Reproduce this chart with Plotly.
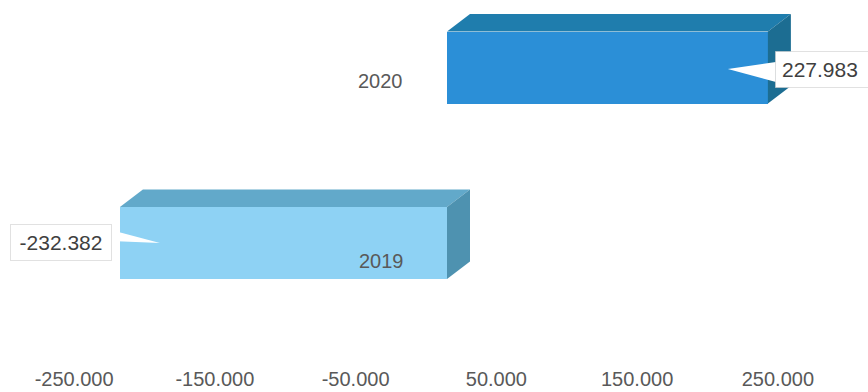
import plotly.graph_objects as go

# Data
years = ["2019", "2020"]
values = [-232382, 227983]
tick_values = [-250000, -150000, -50000, 50000, 150000, 250000]
tick_labels = ["-250.000", "-150.000", "-50.000", "50.000", "150.000", "250.000"]

# Face colours for the pseudo-3D boxes (front, top, side)
front_colors = ["#8ED2F4", "#2B8FD7"]
top_colors = ["#62A9CA", "#1F7DAD"]
side_colors = ["#4E92B0", "#1C6D92"]

# Canvas geometry
W, H = 868, 392
MB = 27
plot_h = H - MB
px_per_unit = 1.4075 / 1000.0
zero_px = 447.0
x_range = [-zero_px / px_per_unit, (W - zero_px) / px_per_unit]

row_px = 175.5          # pixel distance between the two rows
row0_px = 243.0         # pixel y of first row centre
y_range = [-(plot_h - row0_px) / row_px, 1 + (row0_px - row_px) / row_px]

bar_px = 72.0           # front face height
DX, DY = 23.0, 17.5     # depth offset of the boxes in pixels
dx_units = DX / px_per_unit
label_shift_units = 21.0 / px_per_unit  # axis labels sit on the floor edge

ypos = list(range(len(years)))

fig = go.Figure()
fig.add_trace(go.Bar(
    y=ypos, x=values, base=0, orientation="h",
    width=bar_px / row_px,
    marker=dict(color=front_colors, line=dict(width=0)),
    hoverinfo="skip", showlegend=False,
))
# empty trace carrying the label axis
fig.add_trace(go.Scatter(x=[], y=[], xaxis="x2", yaxis="y", showlegend=False))

shapes = []
annotations = []
half = bar_px / 2
label_font = dict(family="Liberation Sans, Arial", size=21, color="#3F3F3F")
for i, (yr, v) in enumerate(zip(years, values)):
    x0, x1 = min(0, v), max(0, v)
    # top face
    shapes.append(dict(
        type="path", xref="x", yref="y", ysizemode="pixel", yanchor=i,
        path=(f"M {x0},{half} L {x1},{half} L {x1 + dx_units},{half + DY} "
              f"L {x0 + dx_units},{half + DY} Z"),
        fillcolor=top_colors[i], line=dict(width=0), layer="above",
    ))
    # side face
    shapes.append(dict(
        type="path", xref="x", yref="y", ysizemode="pixel", yanchor=i,
        path=(f"M {x1},{half} L {x1 + dx_units},{half + DY} "
              f"L {x1 + dx_units},{-half + DY} L {x1},{-half} Z"),
        fillcolor=side_colors[i], line=dict(width=0), layer="above",
    ))

    label = f"{v:,}".replace(",", ".")
    if v >= 0:
        pointer = "M -40,-1.5 L 8,5.5 L 8,-14.5 Z"
        annotations.append(dict(
            x=v, y=i, xref="x", yref="y", text=label, showarrow=False,
            xanchor="left", xshift=7, yshift=-1.5, width=94, align="left",
            font=label_font,
            bgcolor="white", bordercolor="rgba(205,205,205,0.6)", borderwidth=1,
            borderpad=6,
        ))
    else:
        pointer = "M 40,0 L -9,13 L -9,2 Z"
        annotations.append(dict(
            x=v, y=i, xref="x", yref="y", text=label, showarrow=False,
            xanchor="right", xshift=-8, yshift=0.5, width=88, align="center",
            font=label_font,
            bgcolor="white", bordercolor="rgba(205,205,205,0.6)", borderwidth=1,
            borderpad=6,
        ))
    shapes.append(dict(
        type="path", xref="x", yref="y", xsizemode="pixel", xanchor=v,
        ysizemode="pixel", yanchor=i, path=pointer,
        fillcolor="white", line=dict(width=0), layer="above",
    ))

# category labels
cat_offsets = [(-66, -18), (-66.5, -13.5)]
for i, yr in enumerate(years):
    annotations.append(dict(
        x=0, y=i, xref="x", yref="y", text=yr, showarrow=False,
        xanchor="center", xshift=cat_offsets[i][0], yshift=cat_offsets[i][1],
        font=dict(family="Liberation Sans, Arial", size=20, color="#595959"),
    ))

fig.update_layout(
    width=W, height=H,
    margin=dict(l=0, r=0, t=0, b=MB),
    paper_bgcolor="white", plot_bgcolor="white",
    shapes=shapes, annotations=annotations,
    xaxis=dict(range=x_range, visible=False, fixedrange=True),
    xaxis2=dict(
        range=[x_range[0] + label_shift_units, x_range[1] + label_shift_units],
        overlaying="x", side="bottom", anchor="y",
        tickvals=tick_values, ticktext=tick_labels,
        showgrid=False, zeroline=False, showline=False, ticks="",
        tickfont=dict(family="Liberation Sans, Arial", size=20, color="#595959"),
    ),
    yaxis=dict(range=y_range, visible=False, fixedrange=True),
    bargap=0,
)

fig.write_html("out.html")
